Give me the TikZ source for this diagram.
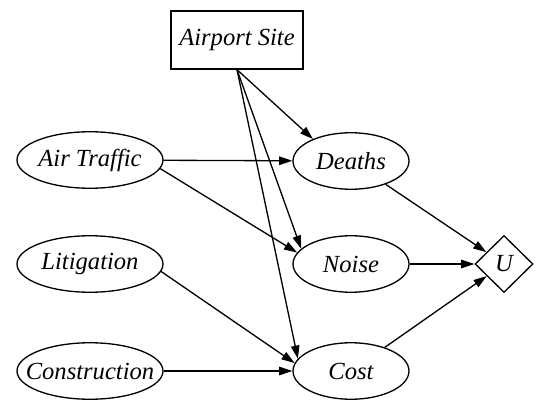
\documentclass[tikz,border=0pt]{standalone}
\usepackage{fontspec}
\setmainfont{Liberation Serif}
\usetikzlibrary{shapes.geometric,arrows.meta}

\begin{document}
\begin{tikzpicture}[x=0.02cm, y=-0.02cm, line width=0.75pt,
  >={Triangle[length=7.5pt,width=4.8pt]},
  every node/.style={font=\fontsize{14}{16}\selectfont\itshape, inner sep=0pt},
  chance/.style={ellipse, draw, inner xsep=-8pt, minimum width=2.92cm, minimum height=1.13cm},
  small/.style={chance, minimum width=2.32cm},
  decision/.style={rectangle, draw, minimum width=2.64cm, minimum height=1.16cm},
  utility/.style={diamond, draw, minimum width=1.16cm, minimum height=1.14cm}]
  \useasboundingbox (0,0) rectangle (544,412);

  % Nodos
  \node[decision] (site) at (237, 40) {Airport Site};
  \node[chance] (traffic) at (90, 160) {Air Traffic};
  \node[chance] (litig) at (90, 264) {Litigation};
  \node[chance] (constr) at (90, 371) {Construction};
  \node[small] (deaths) at (351, 161) {Deaths};
  \node[small] (noise) at (351, 264) {Noise};
  \node[small] (cost) at (351, 371) {Cost};
  \node[utility] (U) at (504, 264) {U};

  % Flechas
  \draw[->] (site.south) -- (deaths.150);
  \draw[->] (site.south) -- (noise.163);
  \draw[->] (site.south) -- (cost.167);
  \draw[->] (traffic) -- (deaths);
  \draw[->] (traffic.-7) -- (noise.168);
  \draw[->] (litig.-6) -- (cost.172);
  \draw[->] (constr) -- (cost);
  \draw[->] (deaths) -- (U);
  \draw[->] (noise) -- (U);
  \draw[->] (cost) -- (U);
\end{tikzpicture}
\end{document}
